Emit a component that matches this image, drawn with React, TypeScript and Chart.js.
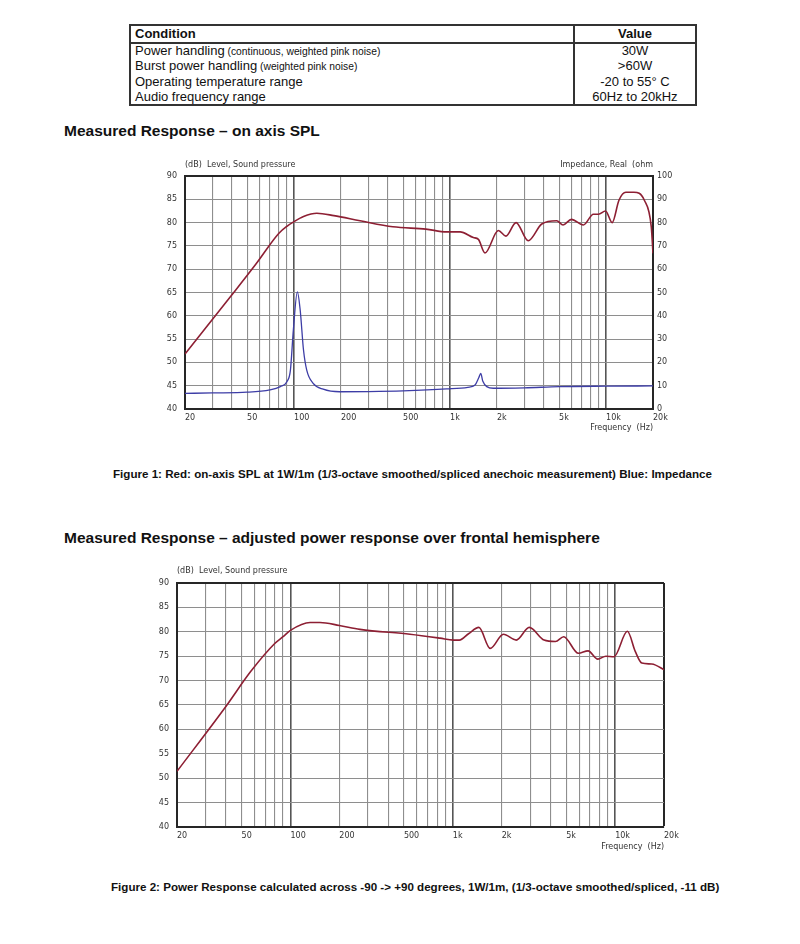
import React, { useEffect, useRef } from 'react';
import { Chart, registerables } from 'chart.js';

Chart.register(...registerables);

// ---------- data ----------
const SPL1_FREQ = [20, 40, 57, 80, 90, 100, 115, 140, 180, 265, 430, 700, 950, 1160, 1410, 1520, 1675, 2040, 2280, 2650, 3170, 3870, 4830, 5300, 6000, 7150, 8300, 8950, 9920, 10950, 12100, 13400, 15100, 17600, 19500, 20000];
const SPL1_DB = [51.8, 64.5, 71.1, 77.7, 79.2, 80.2, 81.3, 82.0, 81.5, 80.4, 79.1, 78.6, 78.0, 78.0, 76.8, 76.4, 73.5, 78.3, 77.1, 80.0, 76.1, 79.7, 80.4, 79.5, 80.7, 79.5, 81.8, 81.8, 82.5, 80.0, 84.8, 86.5, 86.5, 84.8, 79.1, 73.4];

const IMP1_FREQ = [20, 30, 50, 70, 81.7, 90, 94.8, 99, 105, 109.5, 115, 120.6, 132.6, 153.7, 196, 300, 500, 950, 1300, 1447, 1530, 1574, 1620, 1720, 1895, 3000, 5000, 10000, 20000];
const IMP1_OHM = [6.7, 6.9, 7.2, 8.2, 9.6, 11.7, 16.7, 33.9, 50.3, 42.5, 25.3, 16.7, 11.0, 8.5, 7.4, 7.5, 7.8, 8.6, 9.3, 10.3, 13.5, 15.3, 12.0, 9.6, 8.9, 9.1, 9.6, 9.8, 9.9];

const PWR2_FREQ = [20, 40, 57, 80, 90, 100, 132, 152, 200, 268, 545, 834, 1010, 1097, 1250, 1447, 1700, 2050, 2460, 2960, 3650, 4290, 4820, 5940, 6810, 7820, 8770, 9840, 11900, 13300, 14600, 16800, 19800, 20000];
const PWR2_DB = [51.4, 64.7, 71.9, 77.6, 79.0, 80.3, 81.9, 81.9, 81.3, 80.5, 79.5, 78.7, 78.3, 78.3, 79.6, 80.9, 76.6, 79.5, 78.3, 80.9, 78.3, 78.0, 79.0, 75.6, 76.1, 74.4, 75.0, 74.9, 80.1, 76.0, 73.6, 73.4, 72.3, 72.2];

const X_GRID_HZ = [20, 30, 40, 50, 60, 70, 80, 90, 100, 200, 300, 400, 500, 600, 700, 800, 900, 1000, 2000, 3000, 4000, 5000, 6000, 7000, 8000, 9000, 10000, 20000];
const X_LABEL_HZ = [20, 50, 100, 200, 500, 1000, 2000, 5000, 10000, 20000];
const X_LABEL_TEXT = ['20', '50', '100', '200', '500', '1k', '2k', '5k', '10k', '20k'];
const X_MAJOR_HZ = [100, 1000, 10000];

const DB_MIN = 40;
const DB_MAX = 90;
const DB_STEP = 5;
const OHM_MIN = 0;
const OHM_MAX = 100;
const OHM_STEP = 10;

const TABLE_CONDITIONS = ['Power handling', 'Burst power handling', 'Operating temperature range', 'Audio frequency range'];
const TABLE_NOTES = ['(continuous, weighted pink noise)', '(weighted pink noise)', '', ''];
const TABLE_VALUES = ['30W', '>60W', '-20 to 55° C', '60Hz to 20kHz'];

// ---------- helpers ----------
const toPoints = (xs: number[], ys: number[]) => xs.map((x, i) => ({ x, y: ys[i] }));

const TICK_FONT = { family: 'DejaVu Sans', size: 8 };
const TEXT_COLOR = '#333';
const FRAME = '#262626';

const headerPlugin = {
  id: 'hdr',
  afterDraw(chart: any, _args: any, opts: any) {
    const { ctx, chartArea } = chart;
    ctx.save();
    ctx.font = '8px "DejaVu Sans"';
    ctx.fillStyle = TEXT_COLOR;
    ctx.textBaseline = 'middle';
    ctx.textAlign = 'left';
    ctx.fillText(opts.left, chartArea.left, chartArea.top - opts.dy);
    if (opts.right) {
      ctx.textAlign = 'right';
      ctx.fillText(opts.right, chartArea.right, chartArea.top - opts.dy);
    }
    ctx.restore();
  },
};

interface ChartCfg {
  width: number;
  height: number;
  padTop: number;
  padRight: number;
  yWidth: number;
  y2Width: number;
  xHeight: number;
  titlePad: number;
  hdrDy: number;
  hdrLeft: string;
  hdrRight?: string;
  datasets: any[];
  rightAxis: boolean;
}

function buildConfig(cfg: ChartCfg): any {
  const scales: any = {
    x: {
      type: 'logarithmic',
      min: 20,
      max: 20000,
      afterBuildTicks: (s: any) => {
        s.ticks = X_GRID_HZ.map((v) => ({ value: v }));
      },
      afterFit: (s: any) => {
        s.height = cfg.xHeight;
      },
      ticks: {
        autoSkip: false,
        maxRotation: 0,
        minRotation: 0,
        align: 'start',
        padding: 4,
        color: TEXT_COLOR,
        font: TICK_FONT,
        callback: (v: any) => {
          const i = X_LABEL_HZ.indexOf(Number(v));
          return i >= 0 ? X_LABEL_TEXT[i] : '';
        },
      },
      grid: {
        drawTicks: false,
        color: (c: any) => {
          const v = c.tick ? c.tick.value : 0;
          if (v === 20000) return FRAME;
          return X_MAJOR_HZ.includes(v) ? '#555' : '#8e8e8e';
        },
        lineWidth: (c: any) => {
          const v = c.tick ? c.tick.value : 0;
          if (v === 20000) return 2;
          return X_MAJOR_HZ.includes(v) ? 1.6 : 1.1;
        },
      },
      border: { display: true, color: FRAME, width: 2 },
      title: {
        display: true,
        text: 'Frequency  (Hz)',
        align: 'end',
        color: TEXT_COLOR,
        font: TICK_FONT,
        padding: { top: 0, bottom: cfg.titlePad },
      },
    },
    y: {
      type: 'linear',
      position: 'left',
      min: DB_MIN,
      max: DB_MAX,
      afterFit: (s: any) => {
        s.width = cfg.yWidth;
      },
      ticks: { stepSize: DB_STEP, padding: 8, color: TEXT_COLOR, font: TICK_FONT },
      grid: {
        drawTicks: false,
        color: (c: any) => (c.tick && c.tick.value === DB_MAX ? FRAME : '#8e8e8e'),
        lineWidth: (c: any) => (c.tick && c.tick.value === DB_MAX ? 2 : 1.1),
      },
      border: { display: true, color: FRAME, width: 2 },
    },
  };
  if (cfg.rightAxis) {
    scales.y2 = {
      type: 'linear',
      position: 'right',
      min: OHM_MIN,
      max: OHM_MAX,
      afterFit: (s: any) => {
        s.width = cfg.y2Width;
      },
      ticks: { stepSize: OHM_STEP, padding: 4, color: TEXT_COLOR, font: TICK_FONT },
      grid: { drawTicks: false, drawOnChartArea: false },
      border: { display: true, color: FRAME, width: 2 },
    };
  }
  return {
    type: 'line',
    data: { datasets: cfg.datasets },
    options: {
      responsive: false,
      animation: false,
      devicePixelRatio: 1,
      layout: { padding: { top: cfg.padTop, right: cfg.padRight, left: 0, bottom: 0 } },
      elements: { point: { radius: 0 } },
      plugins: {
        legend: { display: false },
        tooltip: { enabled: false },
        hdr: { left: cfg.hdrLeft, right: cfg.hdrRight, dy: cfg.hdrDy },
      },
      scales,
    },
    plugins: [headerPlugin],
  };
}

function ResponseChart({ cfg, style }: { cfg: ChartCfg; style: React.CSSProperties }) {
  const ref = useRef<HTMLCanvasElement | null>(null);
  useEffect(() => {
    if (!ref.current) return;
    const chart = new Chart(ref.current, buildConfig(cfg));
    return () => chart.destroy();
  }, []);
  return (
    <canvas
      ref={ref}
      width={cfg.width}
      height={cfg.height}
      style={{ position: 'absolute', width: cfg.width, height: cfg.height, ...style }}
    />
  );
}

const RED = '#8d1f33';
const BLUE = '#3d3da6';

const chart1: ChartCfg = {
  width: 540,
  height: 300,
  padTop: 26,
  padRight: 0,
  yWidth: 35,
  y2Width: 37,
  xHeight: 41,
  titlePad: 17,
  hdrDy: 11,
  hdrLeft: '(dB)  Level, Sound pressure',
  hdrRight: 'Impedance, Real  (ohm',
  rightAxis: true,
  datasets: [
    {
      data: toPoints(SPL1_FREQ, SPL1_DB),
      borderColor: RED,
      borderWidth: 1.6,
      cubicInterpolationMode: 'monotone',
      yAxisID: 'y',
    },
    {
      data: toPoints(IMP1_FREQ, IMP1_OHM),
      borderColor: BLUE,
      borderWidth: 1.3,
      cubicInterpolationMode: 'monotone',
      yAxisID: 'y2',
    },
  ],
};

const chart2: ChartCfg = {
  width: 560,
  height: 310,
  padTop: 28,
  padRight: 36,
  yWidth: 37,
  y2Width: 0,
  xHeight: 38,
  titlePad: 13,
  hdrDy: 12,
  hdrLeft: '(dB)  Level, Sound pressure',
  rightAxis: false,
  datasets: [
    {
      data: toPoints(PWR2_FREQ, PWR2_DB),
      borderColor: RED,
      borderWidth: 1.6,
      cubicInterpolationMode: 'monotone',
      yAxisID: 'y',
    },
  ],
};

const abs = (left: number, top: number, extra: React.CSSProperties = {}): React.CSSProperties => ({
  position: 'absolute',
  left,
  top,
  whiteSpace: 'nowrap',
  ...extra,
});

const HEADER_CENTER = 34;
const ROW_CENTERS = [50.5, 66, 81.5, 96.5];

export default function App() {
  return (
    <div
      style={{
        position: 'absolute',
        left: 0,
        top: 0,
        width: 800,
        height: 944,
        background: '#fff',
        fontFamily: '"Liberation Sans", Arial, sans-serif',
        color: '#111',
        overflow: 'hidden',
      }}
    >
      {/* spec table */}
      <div style={abs(129, 24, { width: 568, height: 82, border: '2px solid #333', boxSizing: 'border-box' })} />
      <div style={abs(573, 24, { width: 1.5, height: 82, background: '#333' })} />
      <div style={abs(129, 42, { width: 568, height: 1.5, background: '#333' })} />
      <div style={abs(135, HEADER_CENTER - 8, { lineHeight: '16px', fontSize: 13, fontWeight: 700 })}>Condition</div>
      <div style={abs(573, HEADER_CENTER - 8, { width: 124, textAlign: 'center', lineHeight: '16px', fontSize: 13, fontWeight: 700 })}>Value</div>
      {TABLE_CONDITIONS.map((c, i) => (
        <div key={'c' + i} style={abs(135, ROW_CENTERS[i] - 8, { lineHeight: '16px', fontSize: 13 })}>
          {c}
          {TABLE_NOTES[i] ? <span style={{ fontSize: 10.3 }}> {TABLE_NOTES[i]}</span> : null}
        </div>
      ))}
      {TABLE_VALUES.map((v, i) => (
        <div key={'v' + i} style={abs(573, ROW_CENTERS[i] - 8, { width: 124, textAlign: 'center', lineHeight: '16px', fontSize: 13 })}>
          {v}
        </div>
      ))}

      {/* figure 1 */}
      <div style={abs(64, 122, { lineHeight: '18px', fontSize: 15.5, fontWeight: 700 })}>Measured Response – on axis SPL</div>
      <ResponseChart cfg={chart1} style={{ left: 150, top: 150 }} />
      <div style={abs(113, 466, { lineHeight: '16px', fontSize: 11.6, fontWeight: 700 })}>
        Figure 1: Red: on-axis SPL at 1W/1m (1/3-octave smoothed/spliced anechoic measurement) Blue: Impedance
      </div>

      {/* figure 2 */}
      <div style={abs(64, 529, { lineHeight: '18px', fontSize: 15.5, fontWeight: 700 })}>
        Measured Response – adjusted power response over frontal hemisphere
      </div>
      <ResponseChart cfg={chart2} style={{ left: 140, top: 555 }} />
      <div style={abs(111, 879, { lineHeight: '16px', fontSize: 11.6, fontWeight: 700 })}>
        Figure 2: Power Response calculated across -90 -&gt; +90 degrees, 1W/1m, (1/3-octave smoothed/spliced, -11 dB)
      </div>
    </div>
  );
}
